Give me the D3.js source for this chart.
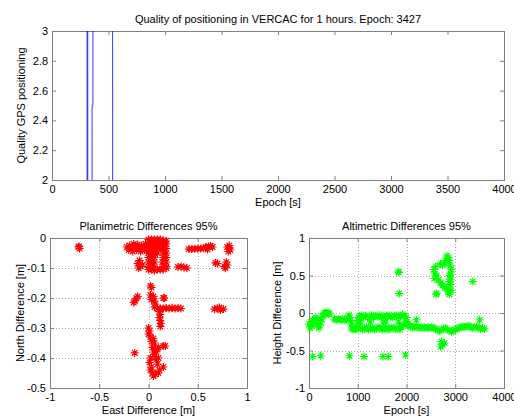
<!DOCTYPE html>
<html>
<head>
<meta charset="utf-8">
<script src="https://d3js.org/d3.v7.min.js"></script>
<style>
  body { margin: 0; background: #fff; }
  text { font-family: "Liberation Sans", Arial, sans-serif; font-size: 11px; fill: #000; }
</style>
</head>
<body>
<script>
// ---- data ----
const qualityEpoch = [0, 310, 311, 316, 317, 354, 355, 362, 363, 536, 537, 3427];
const qualityValue = [1, 1, 5, 5, 1, 1, 2.5, 2.5, 5, 5, 1, 1];

const topXTicks = [0, 500, 1000, 1500, 2000, 2500, 3000, 3500, 4000];
const topYTicks = [2, 2.2, 2.4, 2.6, 2.8, 3];
const planXTicks = [-1, -0.5, 0, 0.5, 1];
const planYTicks = [0, -0.1, -0.2, -0.3, -0.4, -0.5];
const altXTicks = [0, 1000, 2000, 3000, 4000];
const altYTicks = [-1, -0.5, 0, 0.5, 1];

// [east, north]
const planPoints = [
  [-0.71,-0.03],[-0.70,-0.035],[-0.705,-0.028],
  [-0.22,-0.03],[-0.19,-0.025],[-0.17,-0.035],[-0.15,-0.02],[-0.13,-0.03],[-0.11,-0.022],
  [-0.09,-0.035],[-0.07,-0.025],[-0.05,-0.03],[-0.03,-0.02],[-0.02,-0.04],
  [-0.2,-0.04],[-0.16,-0.045],[-0.12,-0.04],[-0.08,-0.045],[-0.04,-0.04],
  [0,-0.005],[0.03,-0.005],[0.06,-0.005],[0.09,-0.005],[0.12,-0.005],[0.15,-0.008],[0.18,-0.01],
  [0,-0.02],[0.03,-0.02],[0.06,-0.02],[0.09,-0.02],[0.12,-0.02],[0.15,-0.02],[0.18,-0.02],
  [0,-0.035],[0.03,-0.035],[0.06,-0.035],[0.09,-0.035],[0.12,-0.035],[0.15,-0.035],[0.18,-0.035],
  [0,-0.05],[0.03,-0.05],[0.06,-0.05],[0.09,-0.05],[0.15,-0.05],[0.18,-0.05],
  [0,-0.065],[0.03,-0.065],[0.06,-0.065],[0.15,-0.065],[0.18,-0.065],
  [0,-0.08],[0.03,-0.08],[0.06,-0.08],[0.14,-0.08],[0.18,-0.08],
  [0,-0.095],[0.03,-0.095],[0.06,-0.095],[0.15,-0.095],[0.18,-0.095],
  [0,-0.105],[0.03,-0.105],[0.06,-0.108],[0.09,-0.105],[0.12,-0.105],[0.15,-0.105],[0.18,-0.1],
  [-0.11,-0.085],[-0.09,-0.075],[-0.08,-0.095],[-0.1,-0.1],[-0.06,-0.09],
  [0.41,-0.037],[0.44,-0.037],[0.47,-0.036],[0.50,-0.036],[0.53,-0.035],[0.56,-0.034],
  [0.58,-0.03],[0.61,-0.028],[0.63,-0.027],[0.65,-0.03],[0.60,-0.038],
  [0.80,-0.03],[0.82,-0.025],[0.83,-0.04],[0.81,-0.045],[0.82,-0.035],
  [0.79,-0.08],[0.80,-0.09],[0.78,-0.1],[0.77,-0.095],
  [0.68,-0.083],[0.70,-0.085],
  [0.30,-0.097],[0.33,-0.095],[0.36,-0.098],[0.39,-0.1],
  [0.02,-0.16],[0.03,-0.165],
  [-0.12,-0.2],[-0.14,-0.21],[-0.15,-0.215],[-0.11,-0.195],
  [0.02,-0.19],[0.04,-0.2],[0.06,-0.21],[0.03,-0.205],[0.07,-0.22],[0.05,-0.195],[0.15,-0.2],[0.16,-0.2],
  [0.06,-0.23],[0.09,-0.235],[0.12,-0.235],[0.15,-0.235],[0.18,-0.233],[0.21,-0.235],
  [0.24,-0.233],[0.27,-0.235],[0.30,-0.233],[0.33,-0.235],
  [0.11,-0.245],[0.12,-0.255],[0.11,-0.265],[0.12,-0.275],[0.125,-0.285],[0.12,-0.295],
  [0.67,-0.237],[0.70,-0.235],[0.73,-0.24],[0.76,-0.237],[0.72,-0.232],
  [0,-0.3],[0.01,-0.31],[0,-0.32],[0.02,-0.33],[0.03,-0.345],[0.05,-0.335],[0.06,-0.35],
  [0.04,-0.365],[0.07,-0.37],[0.05,-0.38],[0.09,-0.37],[0.10,-0.365],[0.17,-0.36],[0.15,-0.36],
  [0.08,-0.38],[-0.14,-0.383],[0.06,-0.395],[0.02,-0.4],[0.01,-0.415],[0.03,-0.43],[0.02,-0.44],
  [0.04,-0.45],[0.07,-0.455],[0.10,-0.45],[0.11,-0.44],[0.09,-0.42],[0.08,-0.405],[0.10,-0.4],
  [0.05,-0.46],[0.15,-0.43]
];

// [epoch, height]
const altPoints = [
  [0,-0.15],[20,-0.2],[40,-0.12],[60,-0.18],[80,-0.1],[100,-0.14],[120,-0.08],[140,-0.06],
  [160,-0.1],[180,-0.16],[200,-0.2],[220,-0.17],[240,-0.12],[260,-0.08],[280,-0.04],[300,-0.02],
  [320,0],[340,0],[360,-0.01],[380,0],[400,-0.01],[420,0],
  [520,-0.08],[560,-0.09],[600,-0.08],[640,-0.09],[680,-0.08],[720,-0.1],[760,-0.09],[790,-0.07],
  [820,-0.03],[840,-0.06],[860,-0.1],[870,-0.15],[880,-0.2],[900,-0.22],[930,-0.21],[960,-0.22],
  [990,-0.2],[1000,-0.15],[1010,-0.1],[1020,-0.06],[1040,-0.04],
  [1080,-0.03],[1120,-0.05],[1160,-0.04],[1200,-0.06],[1240,-0.05],[1280,-0.03],[1320,-0.06],
  [1360,-0.04],[1400,-0.05],[1440,-0.03],[1480,-0.05],[1520,-0.04],[1560,-0.06],[1600,-0.04],
  [1640,-0.03],[1680,-0.05],[1720,-0.06],[1760,-0.04],[1800,-0.03],[1840,-0.05],[1880,-0.04],
  [1920,-0.02],[1960,-0.04],[2000,-0.06],
  [1060,-0.2],[1100,-0.22],[1140,-0.21],[1180,-0.19],[1220,-0.22],[1260,-0.21],[1300,-0.2],
  [1340,-0.22],[1380,-0.21],[1420,-0.19],[1460,-0.2],[1500,-0.22],[1540,-0.21],[1580,-0.2],
  [1620,-0.22],[1660,-0.21],[1700,-0.19],[1740,-0.2],[1780,-0.22],[1850,-0.2],[1870,-0.22],
  [1900,-0.18],[1940,-0.16],[1980,-0.15],
  [1060,-0.12],[1260,-0.12],[1530,-0.12],[1570,-0.12],[1840,-0.12],[2000,-0.12],[2040,-0.14],
  [2040,-0.17],[2080,-0.18],[2120,-0.19],[2160,-0.19],[2200,-0.18],[2240,-0.19],[2280,-0.2],
  [2320,-0.19],[2360,-0.19],[2400,-0.2],[2440,-0.19],[2480,-0.2],[2520,-0.19],[2560,-0.2],
  [2600,-0.21],[2640,-0.23],[2680,-0.24],[2720,-0.22],[2760,-0.21],[2800,-0.2],[2840,-0.22],
  [2880,-0.23],[2920,-0.25],[2960,-0.24],[3000,-0.22],[3040,-0.21],[3080,-0.2],[3120,-0.19],
  [3160,-0.18],[3200,-0.19],[3240,-0.18],[3280,-0.17],[3320,-0.19],[3360,-0.2],[3400,-0.19],
  [3440,-0.18],[3480,-0.2],[3520,-0.21],[3560,-0.2],[3600,-0.21],
  [2205,-0.09],[3500,-0.09],[2720,-0.38],[2740,-0.42],[2700,-0.45],[2780,-0.4],
  [75,-0.58],[240,-0.57],[830,-0.57],[1130,-0.58],[1515,-0.58],[1625,-0.58],[1980,-0.56],
  [1832,0.55],[1845,0.54],[1853,0.26],[3360,0.42],
  [2560,0.58],[2580,0.52],[2570,0.46],[2600,0.62],[2620,0.5],[2650,0.44],[2700,0.4],[2740,0.37],
  [2790,0.34],[2820,0.33],[2850,0.28],[2880,0.25],[2900,0.3],[2900,0.38],[2910,0.45],[2900,0.52],
  [2920,0.58],[2900,0.63],[2880,0.7],[2860,0.74],[2830,0.76],[2800,0.7],[2780,0.65],[2740,0.64],
  [2700,0.66],[2890,0.5],[2870,0.42],[2920,0.3],[2605,0.25],[2620,0.26]
];

// ---- drawing ----
const W = 514, H = 417;
const axisColor = "#808080";
const fmt = v => String(v).replace("\u2212", "-");

const svg = d3.select("body").append("svg").attr("width", W).attr("height", H);

function panel(box, xDom, yDom, xTicks, yTicks, grid) {
  const x = d3.scaleLinear().domain(xDom).range([box.left, box.right]);
  const y = d3.scaleLinear().domain(yDom).range([box.bottom, box.top]);
  const g = svg.append("g");

  if (grid) {
    g.append("g").selectAll("line").data(xTicks.slice(1, -1)).join("line")
      .attr("x1", d => Math.round(x(d)) + 0.5).attr("x2", d => Math.round(x(d)) + 0.5)
      .attr("y1", box.top).attr("y2", box.bottom)
      .attr("stroke", "#aaa").attr("stroke-dasharray", "1,2");
    g.append("g").selectAll("line").data(yTicks.slice(1, -1)).join("line")
      .attr("y1", d => Math.round(y(d)) + 0.5).attr("y2", d => Math.round(y(d)) + 0.5)
      .attr("x1", box.left).attr("x2", box.right)
      .attr("stroke", "#aaa").attr("stroke-dasharray", "1,2");
  }

  const styleAxis = sel => {
    sel.select(".domain").remove();
    sel.selectAll(".tick line").attr("stroke", axisColor);
    sel.selectAll(".tick text").attr("fill", "#000").style("font-size", "11px")
      .style("font-family", "'Liberation Sans', Arial, sans-serif");
  };

  g.append("g").attr("transform", `translate(0,${box.bottom})`)
    .call(d3.axisBottom(x).tickValues(xTicks).tickFormat(fmt).tickSizeInner(-4).tickSizeOuter(0).tickPadding(5))
    .call(styleAxis);
  g.append("g").attr("transform", `translate(0,${box.top})`)
    .call(d3.axisTop(x).tickValues(xTicks).tickFormat("").tickSizeInner(-4).tickSizeOuter(0))
    .call(styleAxis);
  g.append("g").attr("transform", `translate(${box.left},0)`)
    .call(d3.axisLeft(y).tickValues(yTicks).tickFormat(fmt).tickSizeInner(-4).tickSizeOuter(0).tickPadding(4))
    .call(styleAxis);
  g.append("g").attr("transform", `translate(${box.right},0)`)
    .call(d3.axisRight(y).tickValues(yTicks).tickFormat("").tickSizeInner(-4).tickSizeOuter(0))
    .call(styleAxis);

  g.append("rect")
    .attr("x", box.left + 0.5).attr("y", box.top + 0.5)
    .attr("width", box.right - box.left).attr("height", box.bottom - box.top)
    .attr("fill", "none").attr("stroke", axisColor);

  return { x, y, g };
}

function labels(box, title, xl, yl, yx) {
  const cx = (box.left + box.right) / 2;
  svg.append("text").attr("x", cx).attr("y", box.top - 8).attr("text-anchor", "middle").text(title);
  svg.append("text").attr("x", cx).attr("y", box.bottom + 26).attr("text-anchor", "middle").text(xl);
  svg.append("text")
    .attr("transform", `translate(${yx},${(box.top + box.bottom) / 2}) rotate(-90)`)
    .attr("text-anchor", "middle").text(yl);
}

function star(r) {
  const a = r * 0.7071;
  return `M${-r},0L${r},0M0,${-r}L0,${r}M${-a},${-a}L${a},${a}M${-a},${a}L${a},${-a}`;
}

// top: quality
const topBox = { left: 52, right: 504, top: 31, bottom: 180 };
const topPanel = panel(topBox, [0, 4000], [2, 3], topXTicks, topYTicks, false);
svg.append("clipPath").attr("id", "clipTop").append("rect")
  .attr("x", topBox.left).attr("y", topBox.top)
  .attr("width", topBox.right - topBox.left).attr("height", topBox.bottom - topBox.top);
const qLine = d3.line().x(d => topPanel.x(d[0])).y(d => topPanel.y(d[1]));
svg.append("path")
  .datum(qualityEpoch.map((e, i) => [e, qualityValue[i]]))
  .attr("clip-path", "url(#clipTop)")
  .attr("d", qLine).attr("fill", "none").attr("stroke", "#0000ff").attr("stroke-width", 0.8);
labels(topBox, "Quality of positioning in VERCAC for 1 hours. Epoch: 3427", "Epoch [s]", "Quality GPS positioning", 25);

// bottom left: planimetric
const planBox = { left: 50, right: 247, top: 238, bottom: 388 };
const plan = panel(planBox, [-1, 1], [-0.5, 0], planXTicks, planYTicks, true);
svg.append("g").selectAll("path").data(planPoints).join("path")
  .attr("transform", d => `translate(${plan.x(d[0])},${plan.y(d[1])})`)
  .attr("d", star(4)).attr("fill", "none").attr("stroke", "#ff0000").attr("stroke-width", 1.2);
labels(planBox, "Planimetric Differences 95%", "East Difference [m]", "North Difference [m]", 24);

// bottom right: altimetric
const altBox = { left: 309, right: 504, top: 238, bottom: 388 };
const alt = panel(altBox, [0, 4000], [-1, 1], altXTicks, altYTicks, true);
svg.append("g").selectAll("path").data(altPoints).join("path")
  .attr("transform", d => `translate(${alt.x(d[0])},${alt.y(d[1])})`)
  .attr("d", star(4)).attr("fill", "none").attr("stroke", "#00ff00").attr("stroke-width", 1.2);
labels(altBox, "Altimetric Differences 95%", "Epoch [s]", "Height Difference [m]", 281);
</script>
</body>
</html>
